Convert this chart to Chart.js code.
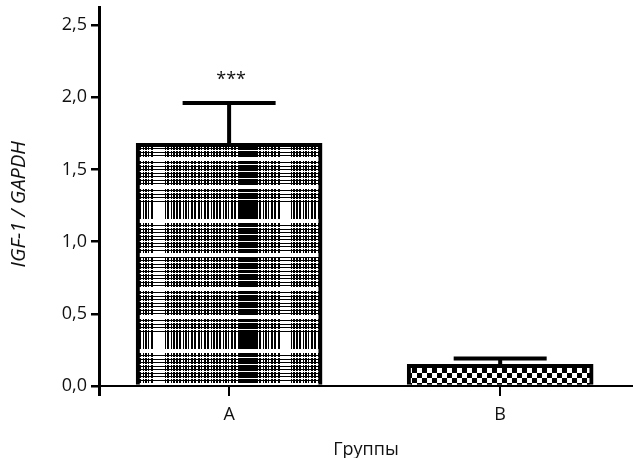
<!DOCTYPE html>
<html>
<head>
<meta charset="utf-8">
<script src="https://cdn.jsdelivr.net/npm/chart.js@4.4.1/dist/chart.umd.min.js"></script>
<style>
  html, body { margin: 0; padding: 0; background: #fff; }
  canvas { display: block; }
</style>
</head>
<body>
<canvas id="igf-chart" width="633" height="458"></canvas>
<script>
// группы и их место на оси X
const groups = ['A', 'B'];
const groupPos = [1, 2];
// IGF-1 / GAPDH: среднее и SD
const means = [1.68, 0.15];
const sds = [0.28, 0.04];
// значимость
const marks = ['***', ''];
// деления оси Y
const yTicks = [0, 0.5, 1, 1.5, 2, 2.5];
const yMax = 2.625;
const xMin = 0.52;
const xMax = 2.49;

const textColor = '#111';
const font = { family: '"Open Sans", sans-serif', size: 18 };

// плотная клетчатая штриховка (группа A)
function plaidPattern() {
    const w = 186, h = 130;
    const cols = '1101100101101001101100110100110110010110';
    const rows = 'WCBCCBC';
    const cv = document.createElement('canvas');
    cv.width = w;
    cv.height = h;
    const c = cv.getContext('2d');
    const img = c.createImageData(w, h);
    const colOn = x => {
        if (x >= 104 && x < 121) return true;
        if ((x >= 17 && x < 29) || (x >= 144 && x < 154)) return false;
        return cols[x % cols.length] === '1';
    };
    const rowType = y => {
        if ((y >= 14 && y < 18) || (y >= 43 && y < 46) || (y >= 76 && y < 80) || (y >= 110 && y < 114)) return 'W';
        if (y >= 60 && y < 76) return 'C';
        return rows[y % rows.length];
    };
    for (let y = 0; y < h; y++) {
        const t = rowType(y);
        for (let x = 0; x < w; x++) {
            const black = t === 'B' || (t === 'C' && colOn(x));
            const v = black ? 0 : 255;
            const k = (y * w + x) * 4;
            img.data[k] = img.data[k + 1] = img.data[k + 2] = v;
            img.data[k + 3] = 255;
        }
    }
    c.putImageData(img, 0, 0);
    return c.createPattern(cv, 'repeat');
}

// шахматка (группа B)
function checkerPattern() {
    const cv = document.createElement('canvas');
    cv.width = 10;
    cv.height = 10;
    const c = cv.getContext('2d');
    c.fillStyle = '#fff';
    c.fillRect(0, 0, 10, 10);
    c.fillStyle = '#000';
    c.fillRect(5, 0, 5, 5);
    c.fillRect(0, 5, 5, 5);
    return c.createPattern(cv, 'repeat');
}

const patterns = [plaidPattern(), checkerPattern()];

// привязываем штриховку к левому верхнему углу столбца
const patternAnchor = {
    id: 'patternAnchor',
    beforeDatasetsDraw(chart) {
        chart.getDatasetMeta(0).data.forEach((bar, i) => {
            const left = Math.round(bar.x - bar.width / 2);
            const top = Math.round(bar.y) + (i === 1 ? 4 : 0);
            patterns[i].setTransform(new DOMMatrix([1, 0, 0, 1, left, top]));
        });
    }
};

// планки погрешностей (только вверх) и звёздочки
const errorBars = {
    id: 'errorBars',
    afterDatasetsDraw(chart) {
        const { ctx, scales: { x, y } } = chart;
        const bars = chart.getDatasetMeta(0).data;
        ctx.save();
        ctx.strokeStyle = '#000';
        ctx.lineWidth = 4;
        means.forEach((m, i) => {
            const px = x.getPixelForValue(groupPos[i]);
            const yBar = y.getPixelForValue(m);
            const yTop = y.getPixelForValue(m + sds[i]);
            const half = bars[i].width / 4;
            ctx.beginPath();
            ctx.moveTo(px, yBar);
            ctx.lineTo(px, yTop);
            ctx.moveTo(px - half, yTop);
            ctx.lineTo(px + half, yTop);
            ctx.stroke();
            if (marks[i]) {
                ctx.fillStyle = textColor;
                ctx.font = '18px "Open Sans", sans-serif';
                ctx.textAlign = 'center';
                ctx.textBaseline = 'alphabetic';
                ctx.fillText(marks[i], px + 2, yTop - 18);
            }
        });
        ctx.restore();
    }
};

new Chart(document.getElementById('igf-chart'), {
    type: 'bar',
    data: {
        datasets: [{
            data: groupPos.map((g, i) => ({ x: g, y: means[i] })),
            backgroundColor: ctx => patterns[ctx.dataIndex],
            borderColor: '#000',
            borderWidth: 4,
            borderSkipped: 'bottom',
            barThickness: 186
        }]
    },
    options: {
        responsive: false,
        animation: false,
        devicePixelRatio: 1,
        layout: { padding: { top: 7, left: 0, right: 0, bottom: 0 } },
        plugins: {
            legend: { display: false },
            tooltip: { enabled: false }
        },
        scales: {
            x: {
                type: 'linear',
                min: xMin,
                max: xMax,
                offset: false,
                afterBuildTicks: s => { s.ticks = [xMin, ...groupPos].map(v => ({ value: v })); },
                afterFit: s => { s.height = 72; s.paddingLeft = 0; s.paddingRight = 0; },
                ticks: {
                    callback: v => groups[groupPos.indexOf(v)] ?? '',
                    font: font,
                    color: textColor,
                    padding: 8,
                    maxRotation: 0,
                    autoSkip: false
                },
                grid: {
                    offset: false,
                    drawOnChartArea: false,
                    tickLength: 10,
                    color: '#000',
                    tickColor: '#000',
                    lineWidth: c => c.index === 0 ? 3 : 2
                },
                border: { display: true, color: '#000', width: 2 },
                title: {
                    display: true,
                    text: 'Группы',
                    font: { family: font.family, size: 18, lineHeight: 0.87 },
                    color: textColor,
                    padding: { top: 0, bottom: 0 }
                }
            },
            y: {
                min: 0,
                max: yMax,
                afterBuildTicks: s => { s.ticks = yTicks.map(v => ({ value: v })); },
                afterFit: s => { s.width = 99; s.paddingTop = 0; s.paddingBottom = 0; },
                ticks: {
                    callback: v => v.toFixed(1).replace('.', ','),
                    font: font,
                    color: textColor,
                    padding: 4
                },
                grid: {
                    drawOnChartArea: false,
                    tickLength: 8,
                    color: '#000',
                    tickColor: '#000',
                    lineWidth: 2.5
                },
                border: { display: true, color: '#000', width: 3 },
                title: {
                    display: true,
                    // пробелы в конце немного опускают подпись вдоль оси
                    text: 'IGF-1 / GAPDH   ',
                    font: { family: font.family, size: 20, style: 'italic' },
                    color: textColor,
                    padding: { top: 7, bottom: 0 }
                }
            }
        }
    },
    plugins: [patternAnchor, errorBars]
});
</script>
</body>
</html>
